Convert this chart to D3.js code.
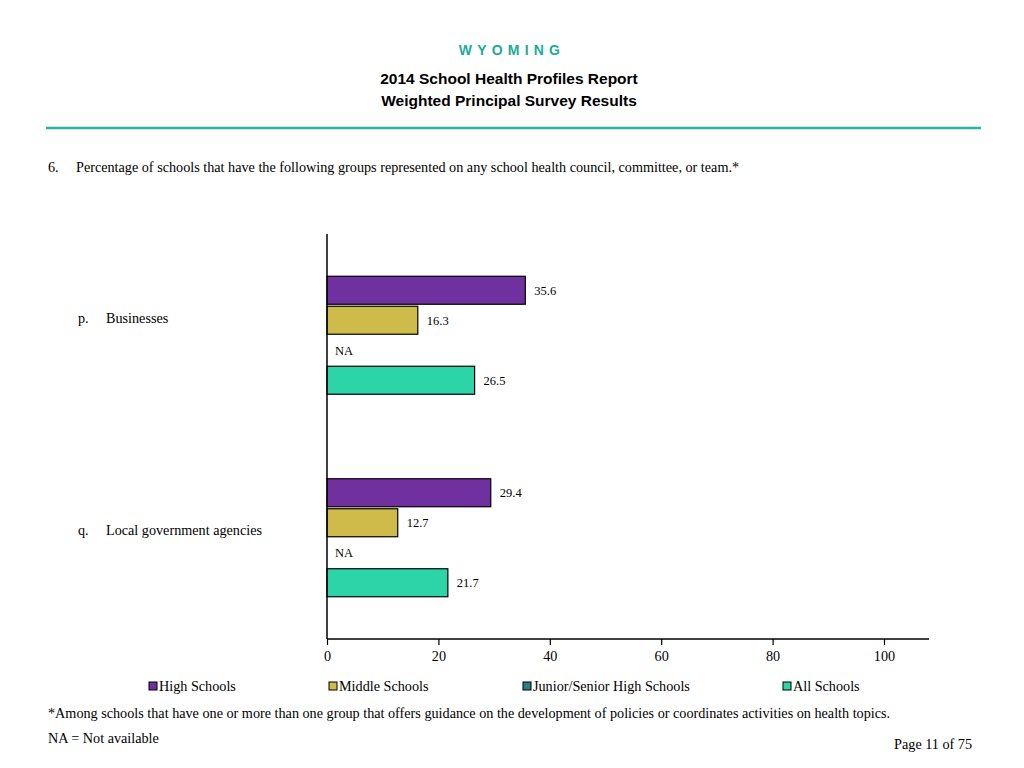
<!DOCTYPE html>
<html><head><meta charset="utf-8">
<script src="https://cdn.jsdelivr.net/npm/d3@7"></script>
<style>
body{margin:0;background:#fff;}
svg{display:block;}
.serif{font-family:"Liberation Serif","Times New Roman",serif;}
.sans{font-family:"Liberation Sans",Arial,sans-serif;}
</style></head>
<body>
<svg id="chart" width="1024" height="768"></svg>
<script>
const categories = ["Businesses", "Local government agencies"];
const categoryLetters = ["p.", "q."];
const seriesNames = ["High Schools", "Middle Schools", "Junior/Senior High Schools", "All Schools"];
const seriesColors = ["#7030a0", "#cfbb4a", "#2a7f7f", "#2dd4a8"];
const highSchools = [35.6, 29.4];
const middleSchools = [16.3, 12.7];
const juniorSenior = [null, null];
const allSchools = [26.5, 21.7];
const xTicks = [0, 20, 40, 60, 80, 100];

const seriesValues = [highSchools, middleSchools, juniorSenior, allSchools];

const svg = d3.select("#chart");
const teal = "#1aab9b";
const FS = 14.2;

// Header
svg.append("text").attr("class","sans").attr("x",512).attr("y",55)
  .attr("text-anchor","middle").attr("font-size",14).attr("font-weight","bold")
  .attr("fill",teal).attr("letter-spacing","5.2px").text("WYOMING");
svg.append("text").attr("class","sans").attr("x",509).attr("y",84)
  .attr("text-anchor","middle").attr("font-size",15.5).attr("font-weight","bold")
  .text("2014 School Health Profiles Report");
svg.append("text").attr("class","sans").attr("x",509).attr("y",106)
  .attr("text-anchor","middle").attr("font-size",15.5).attr("font-weight","bold")
  .text("Weighted Principal Survey Results");
svg.append("line").attr("x1",46).attr("x2",981).attr("y1",128).attr("y2",128)
  .attr("stroke","#22b5a8").attr("stroke-width",2.5);

// Question
svg.append("text").attr("class","serif").attr("x",48).attr("y",172).attr("font-size",FS).text("6.");
svg.append("text").attr("class","serif").attr("x",76).attr("y",172).attr("font-size",FS)
  .text("Percentage of schools that have the following groups represented on any school health council, committee, or team.*");

// Scales
const x = d3.scaleLinear().domain([0, 100]).range([327, 884]);
const y = d3.scaleBand().domain(categories).range([234, 639]).padding(0);
const inner = d3.scaleBand().domain(seriesNames).range([0, 120]).paddingInner(2/30).paddingOuter(1/30);

const g = svg.append("g");
categories.forEach((cat, ci) => {
  const top = y(cat) + y.bandwidth()/2 - 60;
  seriesNames.forEach((s, si) => {
    const v = seriesValues[si][ci];
    const by = top + inner(s);
    const bh = inner.bandwidth();
    if (v === null) {
      g.append("text").attr("class","serif").attr("x", x(0) + 8).attr("y", by + bh/2 + 4.5)
        .attr("font-size",12.5).text("NA");
    } else {
      g.append("rect").attr("x", x(0)).attr("y", by).attr("width", x(v) - x(0)).attr("height", bh)
        .attr("fill", seriesColors[si]).attr("stroke","#000").attr("stroke-width",1.2);
      g.append("text").attr("class","serif").attr("x", x(v) + 9).attr("y", by + bh/2 + 4.5)
        .attr("font-size",12.5).text(v.toFixed(1));
    }
  });
});

// Category labels
const labelShift = [-12, -3];
categories.forEach((cat, ci) => {
  const cy = y(cat) + y.bandwidth()/2 + labelShift[ci];
  svg.append("text").attr("class","serif").attr("x",78).attr("y",cy).attr("font-size",FS).text(categoryLetters[ci]);
  svg.append("text").attr("class","serif").attr("x",106).attr("y",cy).attr("font-size",FS).text(cat);
});

// Axes
const xAxis = d3.axisBottom(x).tickValues(xTicks).tickSize(6).tickSizeOuter(0);
const ax = svg.append("g").attr("transform","translate(0,639)").call(xAxis);
ax.select(".domain").remove();
ax.selectAll(".tick line").attr("stroke","#000").attr("stroke-width",1.2);
ax.selectAll(".tick text").attr("font-size",FS).attr("fill","#000").attr("y",22).attr("dy",0)
  .style("font-family","'Liberation Serif','Times New Roman',serif");
svg.append("line").attr("x1",327).attr("x2",929).attr("y1",639).attr("y2",639).attr("stroke","#000").attr("stroke-width",1.5);
svg.append("line").attr("x1",327).attr("x2",327).attr("y1",234).attr("y2",639).attr("stroke","#000").attr("stroke-width",1.5);

// Legend
const legendX = [149, 329, 523, 783];
seriesNames.forEach((s, si) => {
  svg.append("rect").attr("x", legendX[si]).attr("y", 682).attr("width", 8).attr("height", 8)
    .attr("fill", seriesColors[si]).attr("stroke","#000").attr("stroke-width",1);
  svg.append("text").attr("class","serif").attr("x", legendX[si] + 10).attr("y", 691)
    .attr("font-size",FS).text(s);
});

// Footnotes
svg.append("text").attr("class","serif").attr("x",48).attr("y",718).attr("font-size",FS)
  .text("*Among schools that have one or more than one group that offers guidance on the development of policies or coordinates activities on health topics.");
svg.append("text").attr("class","serif").attr("x",48).attr("y",743).attr("font-size",FS)
  .text("NA = Not available");
svg.append("text").attr("class","serif").attr("x",972).attr("y",749).attr("text-anchor","end").attr("font-size",FS)
  .text("Page 11 of 75");
</script>
</body></html>
